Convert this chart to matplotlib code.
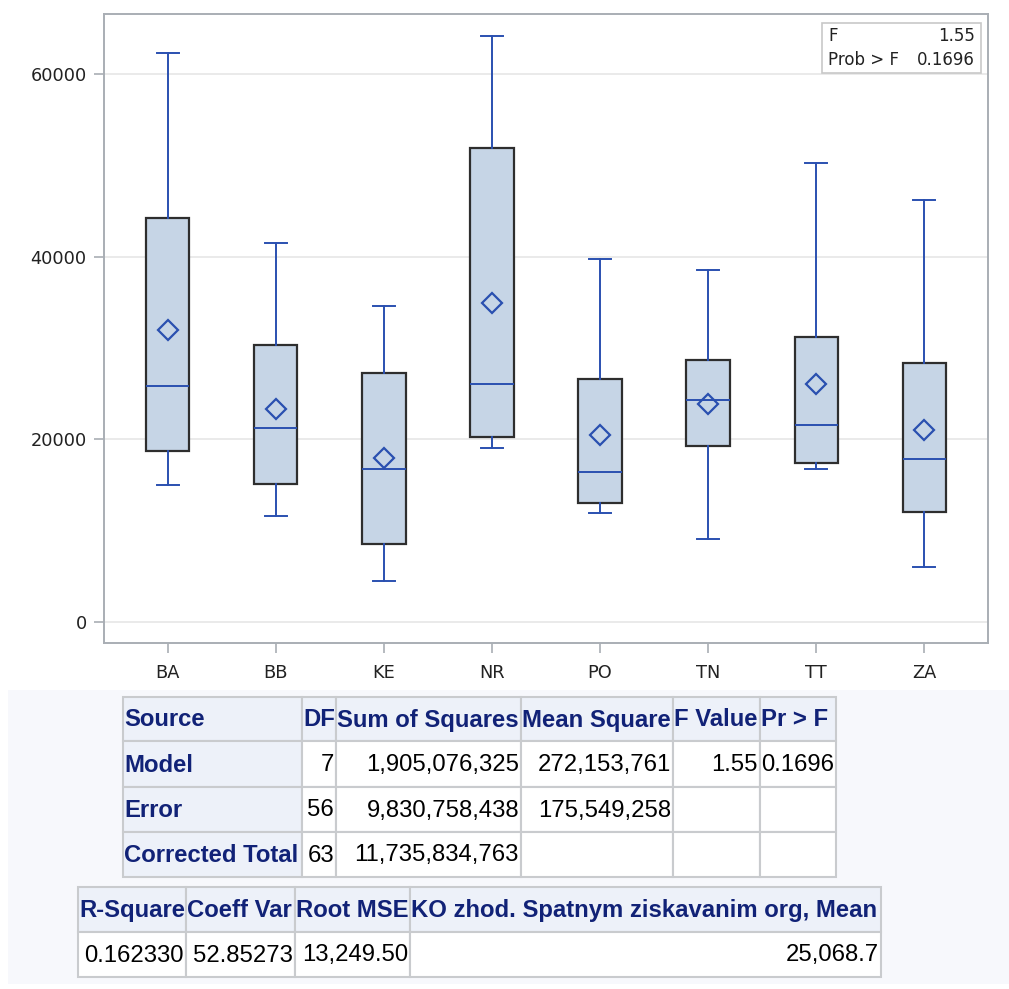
import matplotlib
matplotlib.use("Agg")
import matplotlib.pyplot as plt
from matplotlib.patches import Rectangle

plt.rcParams['font.family'] = ['Liberation Sans', 'DejaVu Sans']

# ---- data ----
categories = ["BA", "BB", "KE", "NR", "PO", "TN", "TT", "ZA"]
whisker_low = [14960, 11570, 4450, 19050, 11930, 9050, 16750, 6020]
q1 = [18690, 15140, 8540, 20290, 12990, 19230, 17440, 12070]
medians = [25835, 21200, 16750, 26050, 16390, 24270, 21530, 17840]
q3 = [44190, 30320, 27260, 51890, 26570, 28680, 31230, 28350]
whisker_high = [62250, 41520, 34590, 64180, 39770, 38500, 50250, 46160]
means = [31965, 23320, 17990, 34950, 20470, 23860, 26050, 21020]
y_ticks = [0, 20000, 40000, 60000]

inset_labels = ["F", "Prob > F"]
inset_values = ["1.55", "0.1696"]

anova_header = ["Source", "DF", "Sum of Squares", "Mean Square", "F Value", "Pr > F"]
anova_rows = [
    ["Model", "7", "1,905,076,325", "272,153,761", "1.55", "0.1696"],
    ["Error", "56", "9,830,758,438", "175,549,258", "", ""],
    ["Corrected Total", "63", "11,735,834,763", "", "", ""],
]
fit_header = ["R-Square", "Coeff Var", "Root MSE", "KO zhod. Spatnym ziskavanim org, Mean"]
fit_row = ["0.162330", "52.85273", "13,249.50", "25,068.7"]

W, H = 1009, 989
fig = plt.figure(figsize=(W / 100, H / 100), dpi=100)

BLUE = "#2A50B0"
FILL = "#C6D5E6"
EDGE = "#2E2E2E"
SPINE = "#A9AEB4"
PLOT_FONT = ['DejaVu Sans']

# ---- box plot ----
L, R, T, B = 104, 988, 14, 643
ax = fig.add_axes([L / W, (H - B) / H, (R - L) / W, (B - T) / H])
stats = []
for i, c in enumerate(categories):
    stats.append(dict(label=c, whislo=whisker_low[i], q1=q1[i], med=medians[i],
                      q3=q3[i], whishi=whisker_high[i], mean=means[i], fliers=[]))
pos = list(range(len(categories)))
ax.bxp(stats, positions=pos, widths=0.4, showmeans=True, patch_artist=True,
       capwidths=0.2,
       boxprops=dict(facecolor=FILL, edgecolor=EDGE, linewidth=1.6),
       whiskerprops=dict(color=BLUE, linewidth=1.4),
       capprops=dict(color=BLUE, linewidth=1.4),
       medianprops=dict(color=BLUE, linewidth=1.4),
       meanprops=dict(marker="D", markerfacecolor="none", markeredgecolor=BLUE,
                      markeredgewidth=1.6, markersize=10.5), zorder=3)
ax.set_xlim(-0.59, 7.59)
ax.set_ylim(-2300, 66560)
ax.set_yticks(y_ticks)
ax.set_yticklabels([str(v) for v in y_ticks], family=PLOT_FONT)
ax.set_xticks(pos)
ax.set_xticklabels(categories, family=PLOT_FONT)
ax.yaxis.grid(True, color="#E6E6E6", linewidth=1.2, zorder=0)
ax.set_axisbelow(True)
for s in ax.spines.values():
    s.set_color(SPINE)
    s.set_linewidth(1.4)
ax.tick_params(axis="both", colors=SPINE, length=7, width=1.2, labelsize=12.8,
               labelcolor="#222222")
ax.tick_params(axis="y", pad=5.5)
ax.tick_params(axis="x", pad=8)

# inset stats box
ix0, iy0, ix1, iy1 = 822, 23, 981, 73
tax = fig.add_axes([0, 0, 1, 1], facecolor="none")
tax.set_xlim(0, W)
tax.set_ylim(H, 0)
tax.axis("off")
tax.add_patch(Rectangle((ix0, iy0), ix1 - ix0, iy1 - iy0, facecolor="white",
                        edgecolor="#C8C8C8", linewidth=1.2, zorder=5))
for k, (lab, val) in enumerate(zip(inset_labels, inset_values)):
    yy = iy0 + 13 + k * 24
    tax.text(ix0 + 6, yy, lab, fontsize=12, color="#222222", va="center", ha="left",
             zorder=6, family=PLOT_FONT)
    tax.text(ix1 - 6, yy, val, fontsize=12, color="#222222", va="center", ha="right",
             zorder=6, family=PLOT_FONT)

# ---- tables ----
tax.add_patch(Rectangle((8, 690), W - 8, 984 - 690, facecolor="#F7F8FC",
                        edgecolor="none", zorder=1))
HDR_BG = "#EDF1F9"
HDR_FG = "#112277"
GRID = "#C9CBCE"
FS = 17.2


def cell(x0, x1, y0, y1, text, header=False, bold=False, align="left", bg="white"):
    tax.add_patch(Rectangle((x0, y0), x1 - x0, y1 - y0, facecolor=bg,
                            edgecolor=GRID, linewidth=1.5, zorder=2))
    if not text:
        return
    color = HDR_FG if (header or bold) else "#000000"
    weight = "bold" if (header or bold) else "normal"
    xx = x0 + 1 if align == "left" else x1 - 2
    tax.text(xx, (y0 + y1) / 2 + 1, text, fontsize=FS, color=color, fontweight=weight,
             ha=align, va="center", zorder=3)


cols1 = [123, 302, 336, 521, 673, 760, 836]
rows1 = [697, 741, 787, 832, 877]
for j, h in enumerate(anova_header):
    cell(cols1[j], cols1[j + 1], rows1[0], rows1[1], h, header=True, bg=HDR_BG)
for i, row in enumerate(anova_rows):
    for j, v in enumerate(row):
        if j == 0:
            cell(cols1[j], cols1[j + 1], rows1[i + 1], rows1[i + 2], v, bold=True, bg=HDR_BG)
        else:
            cell(cols1[j], cols1[j + 1], rows1[i + 1], rows1[i + 2], v, align="right")

cols2 = [78, 186, 295, 410, 881]
rows2 = [887, 932, 977]
for j, h in enumerate(fit_header):
    cell(cols2[j], cols2[j + 1], rows2[0], rows2[1], h, header=True, bg=HDR_BG)
for j, v in enumerate(fit_row):
    cell(cols2[j], cols2[j + 1], rows2[1], rows2[2], v, align="right")

fig.savefig("out.png", dpi=100)
